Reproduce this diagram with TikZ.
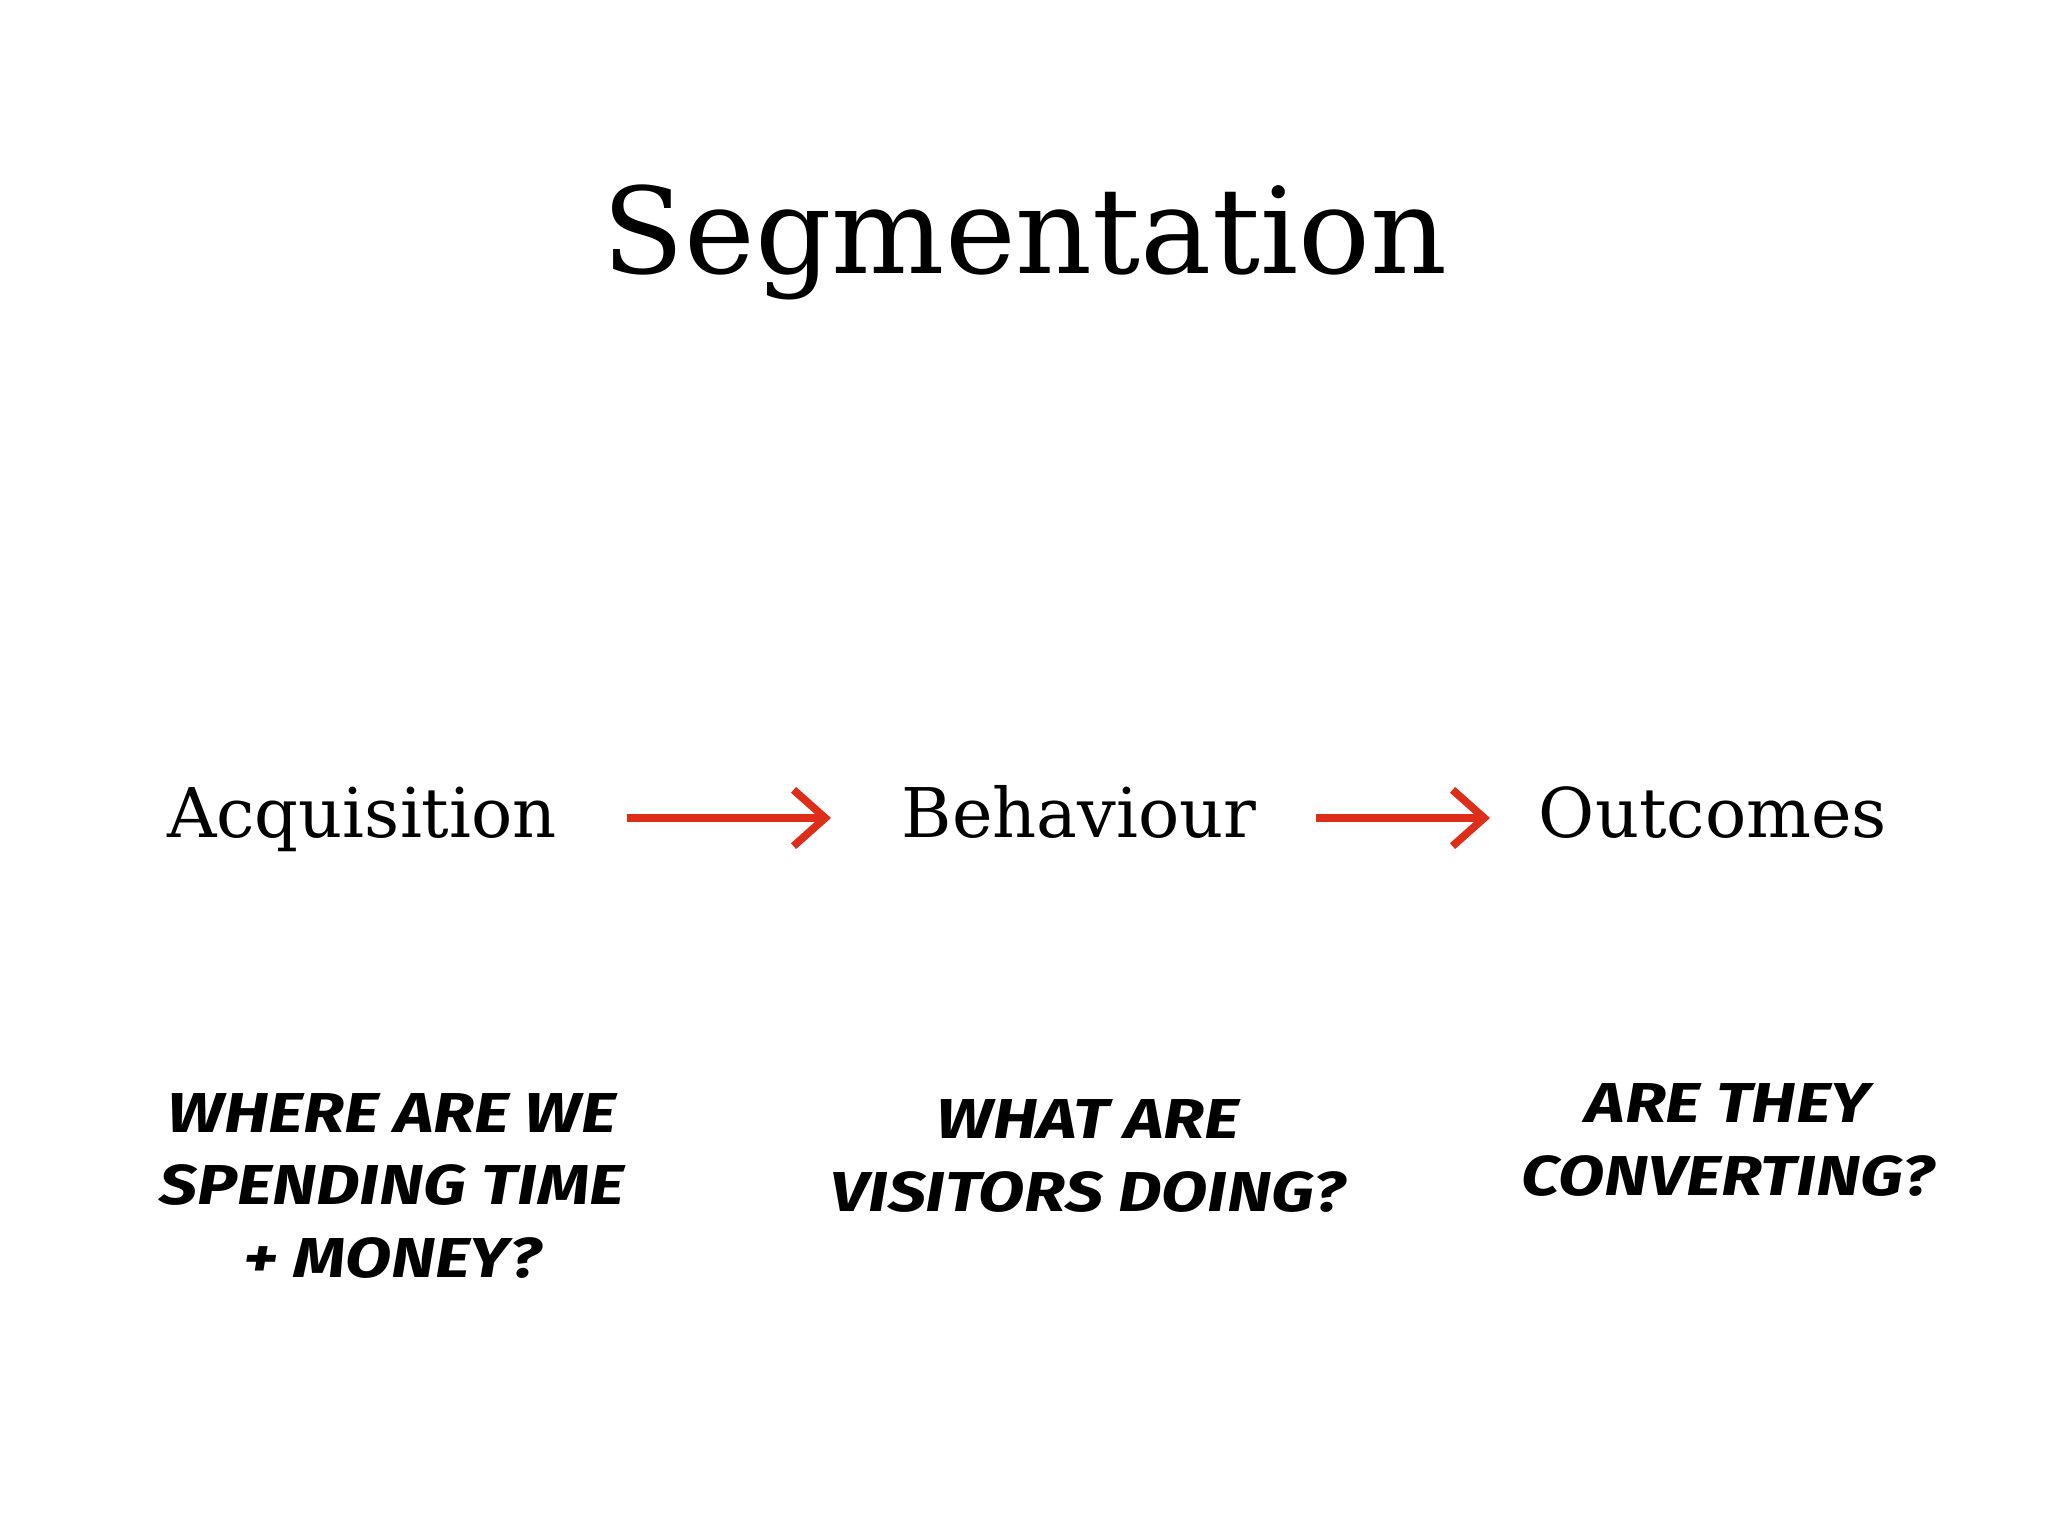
\documentclass[tikz,border=0pt]{standalone}
\usepackage{fontspec}
\setmainfont{DejaVu Serif}
\newfontfamily\handf{Fira Sans}
\usetikzlibrary{arrows.meta}
\definecolor{arrred}{RGB}{222,45,25}
\tikzset{
  stage/.style={font=\fontsize{19.5}{22}\selectfont, inner sep=0pt, anchor=base},
  note/.style={font=\handf\bfseries\itshape\fontsize{16}{20.5}\selectfont, align=center, inner sep=0pt, xscale=1.2},
  flow/.style={draw=arrred, line width=2.2pt, -{Straight Barb[length=9pt,width=16pt,line width=2.2pt]}}
}
\begin{document}
\begin{tikzpicture}
\useasboundingbox (0,0) rectangle (20.48,15.36);
\node[font=\fontsize{34}{40}\selectfont, inner sep=0pt, anchor=base] (title) at (10.25,12.62) {Segmentation};
\node[stage] (acq) at (3.62,6.98) {Acquisition};
\node[stage] (beh) at (10.79,6.98) {Behaviour};
\node[stage] (out) at (17.13,6.98) {Outcomes};
\coordinate (a1) at (6.27,7.18); \coordinate (a2) at (8.31,7.18);
\coordinate (b1) at (13.16,7.18); \coordinate (b2) at (14.90,7.18);
\draw[flow] (a1) -- (a2);
\draw[flow] (b1) -- (b2);
\node[note] (n1) at (3.92,3.5) {WHERE ARE WE\\SPENDING TIME\\+ MONEY?};
\node[note] (n2) at (10.88,3.8) {WHAT ARE\\VISITORS DOING?};
\node[note] (n3) at (17.28,3.96) {ARE THEY\\CONVERTING?};
\end{tikzpicture}
\end{document}
